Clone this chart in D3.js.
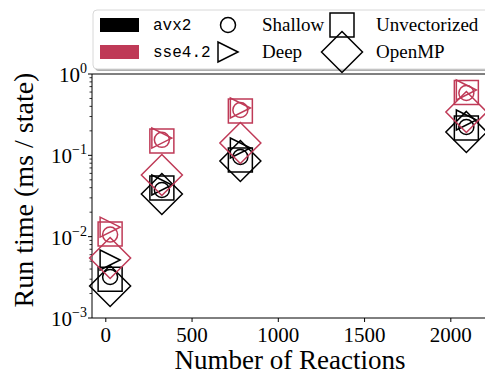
<!DOCTYPE html>
<html>
<head>
<meta charset="utf-8">
<script src="https://cdn.jsdelivr.net/npm/d3@7"></script>
<style>
  html, body { margin: 0; padding: 0; background: #fff; }
  svg { display: block; }
  .serif { font-family: "Liberation Serif", "DejaVu Serif", serif; }
  .mono { font-family: "Liberation Mono", "DejaVu Sans Mono", monospace; }
</style>
</head>
<body>
<svg id="chart" width="485" height="376"></svg>
<script>
// Mechanism sizes (number of reactions)
const reactions = [25, 325, 780, 2090];

// Run time per state (ms), AVX2 builds
const avx2Shallow = [0.00319, 0.0375, 0.0954, 0.223];
const avx2Deep    = [0.00516, 0.0432, 0.123, 0.272];
const avx2Unvec   = [0.00300, 0.0396, 0.0877, 0.217];
const avx2OpenMP  = [0.00247, 0.0335, 0.0852, 0.194];

// Run time per state (ms), SSE4.2 builds
const sseShallow = [0.0106, 0.155, 0.361, 0.584];
const sseDeep    = [0.0131, 0.163, 0.382, 0.636];
const sseUnvec   = [0.0108, 0.150, 0.351, 0.593];
const sseOpenMP  = [0.00547, 0.0573, 0.142, 0.341];

const xTicks = [0, 500, 1000, 1500, 2000];
const yTicks = [1e-3, 1e-2, 1e-1, 1];
const yTickExponents = ["−3", "−2", "−1", "0"];

const colors = { avx2: "#000000", sse: "#bf3a57" };

const svg = d3.select("#chart");

const x = d3.scaleLinear().domain([-80, 2230]).range([92, 490.5]);
const y = d3.scaleLog().domain([1e-3, 1]).range([318, 74]);

// Marker path generators, centred on the origin
const markers = {
  circle: () => { const p = d3.path(); p.arc(0, 0, 7.5, 0, 2 * Math.PI); return p.toString(); },
  triangle: () => "M10,0L-10,-10L-10,10Z",
  square: () => "M-12,-12H12V12H-12Z",
  diamond: () => "M0,-20.5L20.5,0L0,20.5L-20.5,0Z"
};

const series = [
  { values: avx2Shallow, color: colors.avx2, shape: "circle" },
  { values: avx2Deep,    color: colors.avx2, shape: "triangle" },
  { values: avx2Unvec,   color: colors.avx2, shape: "square" },
  { values: avx2OpenMP,  color: colors.avx2, shape: "diamond" },
  { values: sseShallow,  color: colors.sse,  shape: "circle" },
  { values: sseDeep,     color: colors.sse,  shape: "triangle" },
  { values: sseUnvec,    color: colors.sse,  shape: "square" },
  { values: sseOpenMP,   color: colors.sse,  shape: "diamond" }
];

// Axes frame
const frame = svg.append("g");
frame.append("line").attr("x1", 92).attr("x2", 92).attr("y1", 74).attr("y2", 318)
  .attr("stroke", "#000").attr("stroke-width", 1);
frame.append("line").attr("x1", 92).attr("x2", 490).attr("y1", 318).attr("y2", 318)
  .attr("stroke", "#000").attr("stroke-width", 1);
frame.append("line").attr("x1", 92).attr("x2", 490).attr("y1", 74).attr("y2", 74)
  .attr("stroke", "#000").attr("stroke-width", 1);

// X axis ticks and labels
const xAxis = svg.append("g");
xTicks.forEach(t => {
  xAxis.append("line").attr("x1", x(t)).attr("x2", x(t)).attr("y1", 318).attr("y2", 322)
    .attr("stroke", "#000").attr("stroke-width", 1);
  xAxis.append("text").attr("class", "serif").attr("x", x(t)).attr("y", 342)
    .attr("text-anchor", "middle").attr("font-size", 21).text(t);
});

// Y axis: major and minor log ticks
const yAxis = svg.append("g");
for (let e = -3; e < 0; e++) {
  for (let m = 2; m <= 9; m++) {
    const v = m * Math.pow(10, e);
    yAxis.append("line").attr("x1", 89.5).attr("x2", 92).attr("y1", y(v)).attr("y2", y(v))
      .attr("stroke", "#000").attr("stroke-width", 0.8);
  }
}
yTicks.forEach((t, i) => {
  yAxis.append("line").attr("x1", 88).attr("x2", 92).attr("y1", y(t)).attr("y2", y(t))
    .attr("stroke", "#000").attr("stroke-width", 1);
  const txt = yAxis.append("text").attr("class", "serif").attr("x", 87).attr("y", y(t) + 8)
    .attr("text-anchor", "end").attr("font-size", 21);
  txt.append("tspan").text("10");
  txt.append("tspan").attr("dy", -9).attr("font-size", 14).text(yTickExponents[i]);
});

// Axis titles
svg.append("text").attr("class", "serif").attr("x", 290).attr("y", 369)
  .attr("text-anchor", "middle").attr("font-size", 27).text("Number of Reactions");
svg.append("text").attr("class", "serif")
  .attr("transform", "translate(33,190) rotate(-90)")
  .attr("text-anchor", "middle").attr("font-size", 28).text("Run time (ms / state)");

// Data markers
const plot = svg.append("g");
series.forEach(s => {
  plot.selectAll(null).data(s.values).enter().append("path")
    .attr("d", markers[s.shape]())
    .attr("transform", (d, i) => `translate(${x(reactions[i])},${y(d)})`)
    .attr("fill", "none").attr("stroke", s.color).attr("stroke-width", 1.5);
});

// Legend
const legend = svg.append("g");
legend.append("rect").attr("x", 95).attr("y", 12).attr("width", 400).attr("height", 59)
  .attr("rx", 4).attr("fill", "#b0b0b0");
legend.append("rect").attr("x", 93).attr("y", 10).attr("width", 400).attr("height", 59)
  .attr("rx", 4).attr("fill", "#fff").attr("stroke", "#d8d8d8").attr("stroke-width", 1);

const rowY = [25, 52];
legend.append("rect").attr("x", 100).attr("y", rowY[0] - 7).attr("width", 39).attr("height", 14).attr("fill", colors.avx2);
legend.append("rect").attr("x", 100).attr("y", rowY[1] - 7).attr("width", 39).attr("height", 14).attr("fill", colors.sse);
legend.append("text").attr("class", "mono").attr("x", 153).attr("y", rowY[0] + 5).attr("font-size", 16).text("avx2");
legend.append("text").attr("class", "mono").attr("x", 153).attr("y", rowY[1] + 5).attr("font-size", 16).text("sse4.2");

const legendShapes = [
  { shape: "circle", cx: 228, cy: rowY[0], label: "Shallow", lx: 262 },
  { shape: "triangle", cx: 228, cy: rowY[1], label: "Deep", lx: 262 },
  { shape: "square", cx: 342, cy: rowY[0], label: "Unvectorized", lx: 376 },
  { shape: "diamond", cx: 342, cy: rowY[1], label: "OpenMP", lx: 376 }
];
legendShapes.forEach(l => {
  legend.append("path").attr("d", markers[l.shape]())
    .attr("transform", `translate(${l.cx},${l.cy})`)
    .attr("fill", "none").attr("stroke", "#000").attr("stroke-width", 1.5);
  legend.append("text").attr("class", "serif").attr("x", l.lx).attr("y", l.cy + 6)
    .attr("font-size", 19).text(l.label);
});
</script>
</body>
</html>
